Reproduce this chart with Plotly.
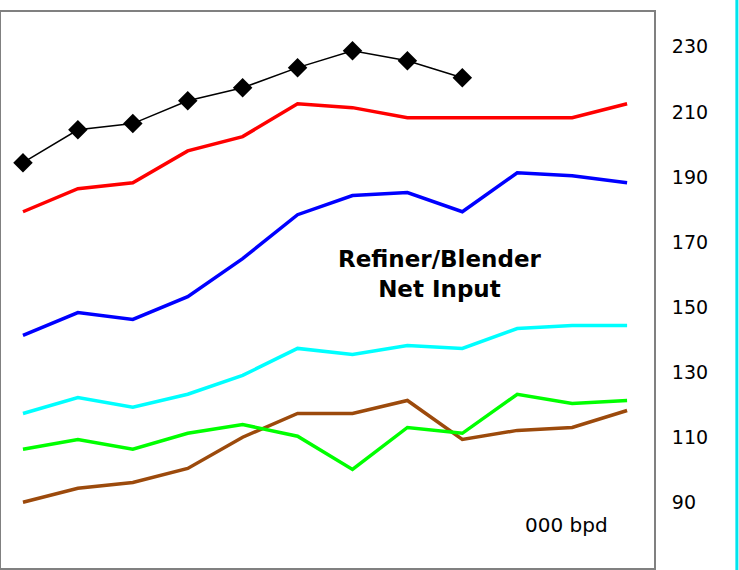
import plotly.graph_objects as go

x = list(range(12))
black = [194.4, 204.5, 206.4, 213.4, 217.4, 223.6, 228.8, 225.7, 220.5]
red = [179.3, 186.4, 188.2, 198.0, 202.4, 212.5, 211.3, 208.2, 208.2, 208.2, 208.2, 212.5]
blue = [141.3, 148.3, 146.2, 153.2, 164.9, 178.4, 184.3, 185.2, 179.3, 191.3, 190.4, 188.2]
cyan = [117.3, 122.2, 119.2, 123.2, 129.0, 137.3, 135.4, 138.2, 137.3, 143.4, 144.3, 144.3]
green = [106.3, 109.3, 106.3, 111.2, 113.9, 110.3, 100.1, 113.0, 111.2, 123.2, 120.4, 121.3]
brown = [90.0, 94.3, 96.1, 100.4, 110.0, 117.3, 117.3, 121.3, 109.3, 112.1, 113.0, 118.2]
yticks = [70, 90, 110, 130, 150, 170, 190, 210, 230]

FONT = "DejaVu Sans, Arial"

fig = go.Figure()
for ys, c in [(brown, "#9c4a0c"), (green, "#00ff00"), (cyan, "#00ffff"), (blue, "#0000ff"), (red, "#ff0000")]:
    fig.add_trace(go.Scatter(x=x, y=ys, mode="lines", line=dict(color=c, width=3.5)))
fig.add_trace(go.Scatter(x=x[:len(black)], y=black, mode="lines+markers",
                         line=dict(color="black", width=1.5),
                         marker=dict(symbol="diamond", size=15, color="black")))

fig.add_annotation(text="<b>Refiner/Blender<br>Net Input</b>", xref="paper", yref="paper",
                   x=440/654, y=(568-274)/556, xanchor="center", yanchor="middle", showarrow=False,
                   font=dict(size=23, color="black", family=FONT))
fig.add_annotation(text="000 bpd", xref="paper", yref="paper", x=566/654, y=(568-525)/556,
                   xanchor="center", yanchor="middle",
                   showarrow=False, font=dict(size=20, color="black", family=FONT))
fig.add_shape(type="line", xref="paper", yref="paper", x0=737/654, x1=737/654, y0=-0.02, y1=1.03,
              line=dict(color="#00e5ee", width=3))

fig.update_layout(
    width=739, height=570, showlegend=False,
    margin=dict(l=1, r=85, t=12, b=2, autoexpand=False),
    plot_bgcolor="white", paper_bgcolor="white",
    font=dict(family=FONT, size=19, color="black"),
    xaxis=dict(range=[-0.4, 11.49], showticklabels=False, showgrid=False, zeroline=False,
               showline=True, mirror=True, linecolor="#808080", linewidth=2),
    yaxis=dict(range=[69.8, 240.7], side="right", tickvals=yticks, showgrid=False, zeroline=False,
               showline=True, mirror=True, linecolor="#808080", linewidth=2, ticks="", ticklabelstandoff=12),
)
fig.write_html("out.html", post_script="document.body.style.margin='0';",
               config={"displayModeBar": False})
